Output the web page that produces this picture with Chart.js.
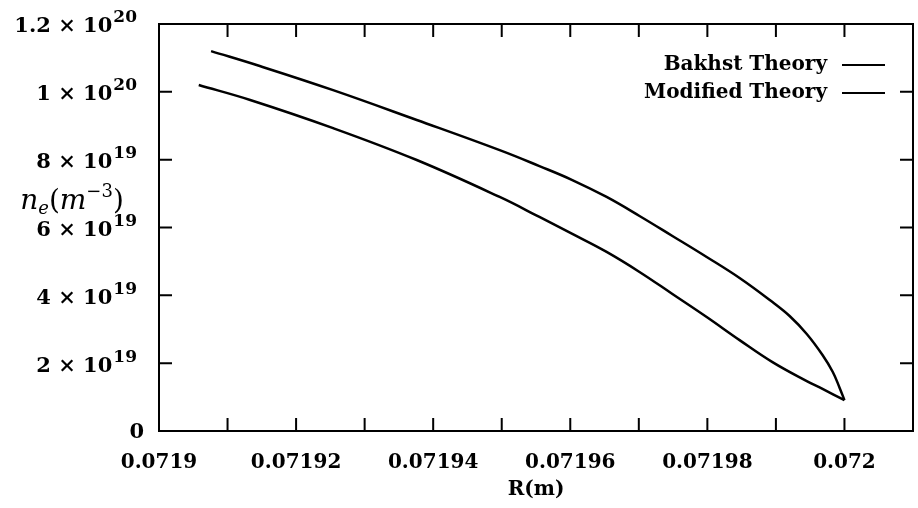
<!DOCTYPE html>
<html>
<head>
<meta charset="utf-8">
<script src="https://cdn.jsdelivr.net/npm/chart.js@4/dist/chart.umd.min.js"></script>
<style>
  body { margin: 0; background: #fff; }
  #wrap { width: 918px; height: 508px; }
</style>
</head>
<body>
<div id="wrap"><canvas id="grafico"></canvas></div>
<script>
// radius R (m) and electron density n_e (m^-3)
const rBakhst = [0.0719076, 0.0719147, 0.0719254, 0.0719376, 0.0719497, 0.0719555, 0.0719603, 0.0719653,
                 0.0719701, 0.0719749, 0.0719799, 0.0719847, 0.0719895, 0.0719920, 0.0719945, 0.0719968,
                 0.0719983, 0.0719993, 0.0720000];
const neBakhst = [11.20e19, 10.76e19, 10.05e19, 9.17e19, 8.28e19, 7.81e19, 7.40e19, 6.90e19,
                  6.34e19, 5.75e19, 5.13e19, 4.51e19, 3.80e19, 3.39e19, 2.86e19, 2.24e19,
                  1.74e19, 1.27e19, 0.91e19];

const rModified = [0.0719058, 0.0719133, 0.0719254, 0.0719376, 0.0719497, 0.0719555, 0.0719603, 0.0719653,
                   0.0719701, 0.0719749, 0.0719799, 0.0719847, 0.0719895, 0.0719945, 0.0719968, 0.0720000];
const neModified = [10.20e19, 9.76e19, 8.93e19, 7.99e19, 6.90e19, 6.31e19, 5.81e19, 5.28e19,
                    4.69e19, 4.04e19, 3.36e19, 2.68e19, 2.03e19, 1.47e19, 1.24e19, 0.91e19];

const xTicks = [0.0719, 0.07191, 0.07192, 0.07193, 0.07194, 0.07195, 0.07196, 0.07197, 0.07198, 0.07199, 0.072, 0.07201];
const xTickLabels = ['0.0719', '', '0.07192', '', '0.07194', '', '0.07196', '', '0.07198', '', '0.072', ''];
const yTicks = [0, 2e19, 4e19, 6e19, 8e19, 10e19, 12e19];
const yTickBase = ['0', '2 × 10', '4 × 10', '6 × 10', '8 × 10', '1 × 10', '1.2 × 10'];
const yTickExp = ['', '19', '19', '19', '19', '20', '20'];

const serieNames = ['Bakhst Theory', 'Modified Theory'];
const fonte = 'DejaVu Serif';

function pontos(xs, ys) {
  const out = [];
  for (let i = 0; i < xs.length; i++) out.push({ x: xs[i], y: ys[i] });
  return out;
}

// frame, inward ticks on all four sides, y labels with exponents, legend, y title
const moldura = {
  id: 'moldura',
  afterDraw(chart) {
    const ctx = chart.ctx;
    const a = chart.chartArea;
    const sx = chart.scales.x, sy = chart.scales.y;
    const tl = 13;
    ctx.save();
    ctx.strokeStyle = '#000';
    ctx.fillStyle = '#000';
    ctx.lineWidth = 2;
    ctx.strokeRect(a.left, a.top, a.right - a.left, a.bottom - a.top);
    ctx.beginPath();
    for (const v of xTicks) {
      const px = sx.getPixelForValue(v);
      ctx.moveTo(px, a.bottom); ctx.lineTo(px, a.bottom - tl);
      ctx.moveTo(px, a.top); ctx.lineTo(px, a.top + tl);
    }
    for (const v of yTicks) {
      const py = sy.getPixelForValue(v);
      ctx.moveTo(a.left, py); ctx.lineTo(a.left + tl, py);
      ctx.moveTo(a.right, py); ctx.lineTo(a.right - tl, py);
    }
    ctx.stroke();

    // y tick labels: mantissa × 10 with a raised exponent
    ctx.textAlign = 'right';
    ctx.textBaseline = 'middle';
    yTicks.forEach((v, i) => {
      const py = sy.getPixelForValue(v);
      const right = a.left - 22;
      if (yTickExp[i]) {
        ctx.font = 'bold 17px ' + fonte;
        const w = ctx.measureText(yTickExp[i]).width;
        ctx.fillText(yTickExp[i], right, py - 6);
        ctx.font = 'bold 21px ' + fonte;
        ctx.fillText(yTickBase[i], right - w - 1, py + 3);
      } else {
        ctx.font = 'bold 21px ' + fonte;
        ctx.fillText(yTickBase[i], right + 7, py + 2);
      }
    });

    // legend
    ctx.font = 'bold 20px ' + fonte;
    ctx.textAlign = 'right';
    ctx.textBaseline = 'middle';
    chart.data.datasets.forEach((ds, i) => {
      const y = a.top + 41 + i * 28;
      ctx.fillText(ds.label, a.right - 86, y);
      ctx.beginPath();
      ctx.lineWidth = 2;
      ctx.moveTo(a.right - 71, y);
      ctx.lineTo(a.right - 28, y);
      ctx.stroke();
    });

    // y axis title n_e(m^-3), written horizontally left of the axis
    const partes = [
      ['n', 'italic 28px ', 0],
      ['e', 'italic 18px ', 5],
      ['(', '28px ', 0],
      ['m', 'italic 28px ', 0],
      ['−3', '18px ', -12],
      [')', '28px ', 0]
    ];
    ctx.textAlign = 'left';
    ctx.textBaseline = 'alphabetic';
    let total = 0;
    for (const p of partes) { ctx.font = p[1] + fonte; total += ctx.measureText(p[0]).width; }
    let x = 72 - total / 2;
    for (const p of partes) {
      ctx.font = p[1] + fonte;
      ctx.fillText(p[0], x, 209 + p[2]);
      x += ctx.measureText(p[0]).width;
    }
    ctx.restore();
  }
};

new Chart(document.getElementById('grafico'), {
  type: 'line',
  data: {
    datasets: [
      { label: serieNames[0], data: pontos(rBakhst, neBakhst) },
      { label: serieNames[1], data: pontos(rModified, neModified) }
    ]
  },
  options: {
    responsive: true,
    maintainAspectRatio: false,
    animation: false,
    layout: { padding: { top: 24, right: 5, left: 0, bottom: 0 } },
    elements: {
      line: { borderColor: '#000', borderWidth: 2.5, tension: 0.4, fill: false },
      point: { radius: 0 }
    },
    plugins: {
      legend: { display: false },
      tooltip: { enabled: false }
    },
    scales: {
      x: {
        type: 'linear',
        min: 0.0719,
        max: 0.07201,
        grid: { display: false, drawTicks: false },
        border: { display: false },
        afterBuildTicks: (scale) => { scale.ticks = xTicks.map(v => ({ value: v })); },
        afterFit: (scale) => {
          scale.height = 77;
          scale.paddingLeft = 0;
          scale.paddingRight = 0;
        },
        ticks: {
          autoSkip: false,
          maxRotation: 0,
          padding: 20,
          color: '#000',
          font: { family: fonte, size: 20, weight: 'bold' },
          callback: (v, i) => xTickLabels[i]
        },
        title: {
          display: true,
          text: 'R(m)',
          color: '#000',
          padding: { top: 0, bottom: 6 },
          font: { family: fonte, size: 20, weight: 'bold' }
        }
      },
      y: {
        min: 0,
        max: 12e19,
        grid: { display: false, drawTicks: false },
        border: { display: false },
        afterBuildTicks: (scale) => { scale.ticks = yTicks.map(v => ({ value: v })); },
        afterFit: (scale) => {
          scale.width = 159;
          scale.paddingTop = 0;
          scale.paddingBottom = 0;
        },
        ticks: { display: false }
      }
    }
  },
  plugins: [moldura]
});
</script>
</body>
</html>
